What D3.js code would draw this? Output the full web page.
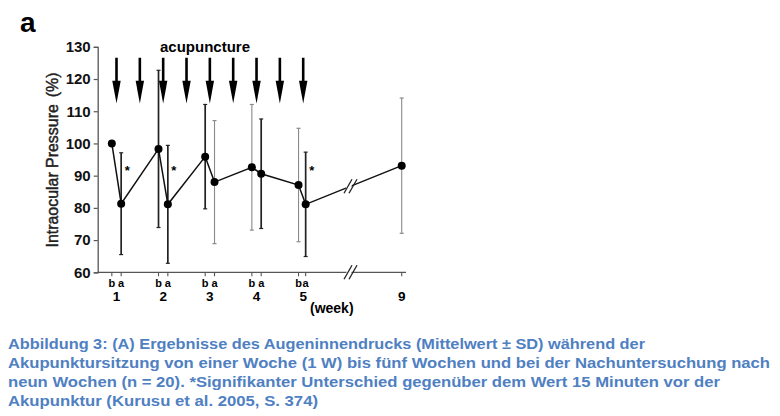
<!DOCTYPE html>
<html>
<head>
<meta charset="utf-8">
<script src="https://cdn.jsdelivr.net/npm/d3@7"></script>
<style>
  body { margin: 0; background: #fff; }
  svg { display: block; font-family: "Liberation Sans", Arial, sans-serif; }
</style>
</head>
<body>
<svg id="chart" width="780" height="416"></svg>
<script>
// values (mean ± SD, % of baseline)
const labels = ["1b", "1a", "2b", "2a", "3b", "3a", "4b", "4a", "5b", "5a", "9"];
const weeks = [1, 1, 2, 2, 3, 3, 4, 4, 5, 5, 9];
const phases = ["b", "a", "b", "a", "b", "a", "b", "a", "b", "a", ""];
const means = [100, 81.3, 98.3, 81.1, 95.9, 88.0, 92.6, 90.6, 87.1, 81.1, 93.1];
const sds = [0, 15.8, 24.4, 18.3, 16.2, 19.1, 19.5, 17.0, 17.6, 16.2, 21.0];
const significant = ["1a", "2a", "5a"];
const arrowWeeks = [1, 1.5, 2, 2.5, 3, 3.5, 4, 4.5, 5];
const yTicks = [60, 70, 80, 90, 100, 110, 120, 130];
const weekTicks = [1, 2, 3, 4, 5, 9];
const captionLines = [
    "Abbildung 3: (A) Ergebnisse des Augeninnendrucks (Mittelwert ± SD) während der",
    "Akupunktursitzung von einer Woche (1 W) bis fünf Wochen und bei der Nachuntersuchung nach",
    "neun Wochen (n = 20). *Signifikanter Unterschied gegenüber dem Wert 15 Minuten vor der",
    "Akupunktur (Kurusu et al. 2005, S. 374)"
];

const data = labels.map((l, i) => ({
    label: l, week: weeks[i], phase: phases[i], mean: means[i], sd: sds[i]
}));

const svg = d3.select("#chart");

// scales (x is broken between week 5 and week 9)
const x = d3.scaleLinear().domain([1, 5, 9]).range([116.5, 303.2, 401.7]);
const y = d3.scaleLinear().domain([60, 130]).range([272.3, 46.8]);
const px = d => x(d.week + (d.phase === "b" ? -0.1 : d.phase === "a" ? 0.1 : 0));
const axisX = 97.7, axisEnd = 406, breakX = 350.5;

// panel letter
svg.append("text")
    .attr("x", 20).attr("y", 32)
    .style("font-size", "28px").style("font-weight", "bold")
    .text("a");

// Y axis
const yAxis = svg.append("g")
    .attr("transform", `translate(${axisX},0)`)
    .call(d3.axisLeft(y).tickValues(yTicks).tickSize(4).tickPadding(3));
yAxis.select(".domain").attr("stroke", "#555").attr("stroke-width", 1.3);
yAxis.selectAll(".tick line").attr("stroke", "#555").attr("stroke-width", 1.2);
yAxis.selectAll("text")
    .style("font-size", "15px").style("font-weight", "bold")
    .style("font-family", "Liberation Sans, Arial, sans-serif")
    .attr("fill", "#111");

const yLabel = svg.append("text")
    .attr("transform", "translate(58,160) rotate(-90)")
    .attr("text-anchor", "middle")
    .attr("textLength", 175)
    .attr("lengthAdjust", "spacingAndGlyphs")
    .style("font-size", "16px")
    .attr("fill", "#222")
    .attr("stroke", "#222")
    .attr("stroke-width", 0.45);
yLabel.append("tspan").text("Intraocular Pressure");
yLabel.append("tspan").attr("dx", 7).text("(%)");

// X axis with break
const xa = svg.append("g");
xa.append("line")
    .attr("x1", axisX).attr("x2", axisEnd)
    .attr("y1", y(60)).attr("y2", y(60))
    .attr("stroke", "#555").attr("stroke-width", 1.3);
xa.selectAll("line.tick")
    .data(data)
    .enter().append("line")
    .attr("class", "tick")
    .attr("x1", px).attr("x2", px)
    .attr("y1", y(60)).attr("y2", y(60) + 4)
    .attr("stroke", "#555").attr("stroke-width", 1.1);
xa.selectAll("text.phase")
    .data(data.filter(d => d.phase !== ""))
    .enter().append("text")
    .attr("class", "phase")
    .attr("x", px).attr("y", 286.5)
    .attr("text-anchor", "middle")
    .style("font-size", "11px").style("font-weight", "bold")
    .text(d => d.phase);
xa.selectAll("text.week")
    .data(weekTicks)
    .enter().append("text")
    .attr("class", "week")
    .attr("x", d => x(d)).attr("y", 300.5)
    .attr("text-anchor", "middle")
    .style("font-size", "13.5px").style("font-weight", "bold")
    .text(d => d);
xa.append("text")
    .attr("x", 310).attr("y", 313)
    .style("font-size", "14px").style("font-weight", "bold")
    .text("(week)");

function breakMark(cx, cy) {
    const g = svg.append("g");
    g.append("path")
        .attr("d", `M${cx - 6},${cy + 7} L${cx - 2},${cy - 7} L${cx + 3},${cy - 7} L${cx - 1},${cy + 7} Z`)
        .attr("fill", "#fff");
    [-2.5, 2.5].forEach(dx => {
        g.append("line")
            .attr("x1", cx + dx - 4).attr("y1", cy + 7)
            .attr("x2", cx + dx + 4).attr("y2", cy - 7)
            .attr("stroke", "#222").attr("stroke-width", 1.3);
    });
}

// error bars
const darkBars = new Set(["1a", "2b", "2a", "3b", "4a", "5a"]);
const bars = svg.append("g");
data.filter(d => d.sd > 0).forEach(d => {
    const dark = darkBars.has(d.label);
    const col = dark ? "#222" : "#8a8a8a";
    const w = dark ? 1.7 : 1.1;
    bars.append("line")
        .attr("x1", px(d)).attr("x2", px(d))
        .attr("y1", y(d.mean + d.sd)).attr("y2", y(d.mean - d.sd))
        .attr("stroke", col).attr("stroke-width", w);
    [d.mean + d.sd, d.mean - d.sd].forEach(v => {
        bars.append("line")
            .attr("x1", px(d) - 2).attr("x2", px(d) + 2)
            .attr("y1", y(v)).attr("y2", y(v))
            .attr("stroke", col).attr("stroke-width", 1.2);
    });
});

// mean line
const line = d3.line().x(px).y(d => y(d.mean));
svg.append("path")
    .datum(data)
    .attr("d", line)
    .attr("fill", "none")
    .attr("stroke", "#111")
    .attr("stroke-width", 1.5);

// break marks on data line and axis
const last = data[data.length - 1], prev = data[data.length - 2];
const t = (breakX - px(prev)) / (px(last) - px(prev));
breakMark(breakX, y(prev.mean + t * (last.mean - prev.mean)));
breakMark(breakX, y(60));

svg.append("g").selectAll("circle")
    .data(data)
    .enter().append("circle")
    .attr("cx", px).attr("cy", d => y(d.mean))
    .attr("r", 4)
    .attr("fill", "#000");

// significance stars
svg.selectAll("text.star")
    .data(data.filter(d => significant.includes(d.label)))
    .enter().append("text")
    .attr("class", "star")
    .attr("x", d => px(d) + 6).attr("y", y(90.2))
    .attr("text-anchor", "middle")
    .style("font-size", "13px").style("font-weight", "bold")
    .text("*");

// acupuncture arrows
svg.append("text")
    .attr("x", 205).attr("y", 52)
    .attr("text-anchor", "middle")
    .style("font-size", "15px").style("font-weight", "bold")
    .text("acupuncture");

const arrows = svg.append("g");
arrowWeeks.forEach(w => {
    const ax = x(w);
    arrows.append("line")
        .attr("x1", ax).attr("x2", ax)
        .attr("y1", y(126.6)).attr("y2", y(118))
        .attr("stroke", "#000").attr("stroke-width", 2.6);
    arrows.append("path")
        .attr("d", `M${ax - 4.2},${y(119.5)} L${ax + 4.2},${y(119.5)} L${ax},${y(112.4)} Z`)
        .attr("fill", "#000");
});

// caption
const capLen = [637, 762, 712, 310];
svg.append("g").selectAll("text")
    .data(captionLines)
    .enter().append("text")
    .attr("x", 8)
    .attr("y", (d, i) => 349 + i * 19)
    .attr("textLength", (d, i) => capLen[i])
    .attr("lengthAdjust", "spacingAndGlyphs")
    .style("font-size", "15.5px").style("font-weight", "bold")
    .attr("fill", "#4f80c2")
    .text(d => d);
</script>
</body>
</html>
